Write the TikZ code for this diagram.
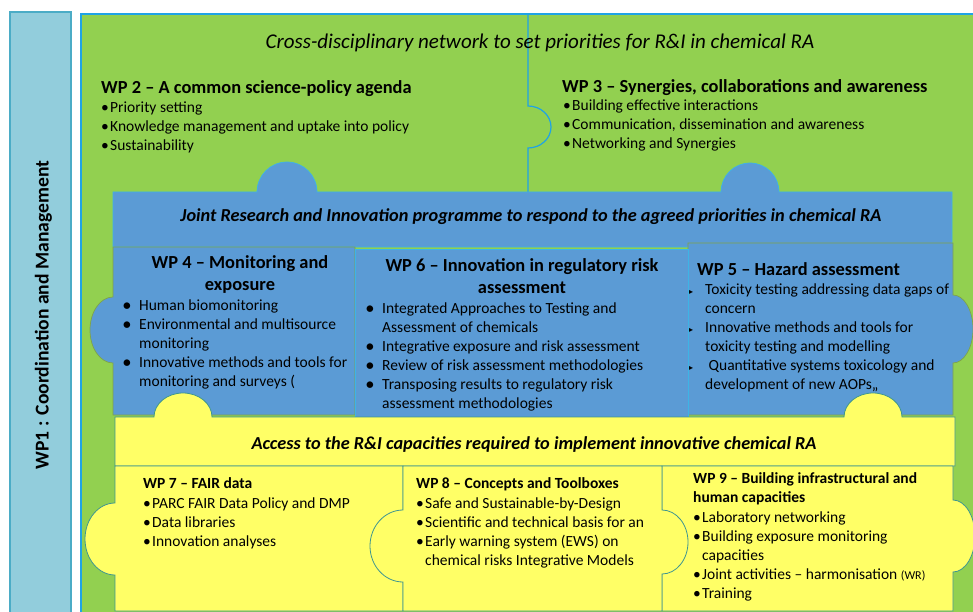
\documentclass[tikz,border=0pt]{standalone}
\usepackage{fontspec}
\setmainfont{Carlito}
\newfontfamily\symfont{DejaVu Sans}

\definecolor{pgreen}{HTML}{92D050}
\definecolor{pblue}{HTML}{5B9BD5}
\definecolor{pyellow}{HTML}{FFFF66}
\definecolor{barfill}{HTML}{92CDDC}
\definecolor{barline}{HTML}{4BACC6}
\definecolor{greenbd}{HTML}{1FA3E6}
\definecolor{bandbd}{HTML}{3DB4E6}
\definecolor{tabbd}{HTML}{7FA34A}
\definecolor{yellowbd}{HTML}{3F9690}

\newcommand{\dotA}{\makebox[9pt][l]{•}}
\newcommand{\dotB}{\makebox[16pt][l]{\bfseries •}}
\newcommand{\triB}{\makebox[16pt][l]{{\symfont\fontsize{8}{8}\selectfont ▸}}}

\tikzset{
  barbox/.style={fill=barfill, draw=barline, line width=1.5pt},
  greenpc/.style={fill=pgreen, draw=greenbd, line width=1.2pt},
  bandpc/.style={fill=pblue, draw=bandbd, line width=0.7pt},
  bluepc/.style={fill=pblue, draw=tabbd, line width=0.7pt},
  yellowpc/.style={fill=pyellow, draw=yellowbd, line width=0.8pt},
  head/.style={font=\fontsize{18.4}{21.5}\selectfont\bfseries, inner sep=0pt},
  subhead/.style={font=\fontsize{15.5}{18.5}\selectfont\bfseries, inner sep=0pt, anchor=base west, align=left},
  items/.style={font=\fontsize{15.5}{19}\selectfont, inner sep=0pt, anchor=base west, align=left},
  banner/.style={font=\fontsize{18.3}{21}\selectfont\bfseries\itshape, inner sep=0pt, anchor=base},
}

\begin{document}
\begin{tikzpicture}[x=1pt,y=-1pt]
\useasboundingbox (0,0) rectangle (973,612);

% WP1 bar
\draw[barbox] (10,12) rectangle (71,625);
\node[font=\fontsize{19.6}{19.6}\selectfont\bfseries, inner sep=0pt, anchor=base, rotate=90] (wp1) at (48.5,315) {WP1 : Coordination and Management};

% green network (multi-line nodes sit on their last baseline)
\draw[greenpc] (81,14) rectangle (990,630);
\draw[draw=greenbd, line width=1.2pt] (528,14) -- (528,106) arc[start angle=270, end angle=450, x radius=23, y radius=21] -- (528,192);

\node[font=\fontsize{21}{21}\selectfont\itshape, inner sep=0pt, anchor=base] (net) at (540,49) {Cross-disciplinary network to set priorities for R\&I in chemical RA};

\node[head, anchor=base west] (wp2t) at (101,94) {WP 2 – A common science-policy agenda};
\node[items] (wp2) at (101,151) {\dotA Priority setting\\ \dotA Knowledge management and uptake into policy\\ \dotA Sustainability};

\node[head, anchor=base west] (wp3t) at (562,93) {WP 3 – Synergies, collaborations and awareness};
\node[items] (wp3) at (563,149) {\dotA Building effective interactions\\ \dotA Communication, dissemination and awareness\\ \dotA Networking and Synergies};

% blue programme
\draw[bandpc] (113,192) -- (257,192) arc[start angle=180, end angle=360, radius=30] -- (721,192) arc[start angle=180, end angle=360, radius=29] -- (952,192) -- (952,247) -- (113,247) -- cycle;
\node[banner] (jrip) at (531,222) {Joint Research and Innovation programme to respond to the agreed priorities in chemical RA};

\draw[bluepc] (113,247) -- (355,247) -- (355,415) -- (113,415) -- (113,363) arc[start angle=90, end angle=270, x radius=23, y radius=33] -- cycle;
\draw[bluepc] (688,243) -- (953,243) -- (953,295) arc[start angle=270, end angle=450, x radius=20, y radius=34] -- (953,415) -- (688,415) -- cycle;
\draw[bandpc] (355,249) rectangle (688,418);

\node[head, align=center, anchor=base] (wp4t) at (240,290) {WP 4 – Monitoring and\\exposure};
\node[items] (wp4) at (123,386) {\dotB Human biomonitoring\\ \dotB Environmental and multisource\\ \hspace*{16pt}monitoring\\ \dotB Innovative methods and tools for\\ \hspace*{16pt}monitoring and surveys (};

\node[head, align=center, anchor=base] (wp6t) at (522,293) {WP 6 – Innovation in regulatory risk\\assessment};
\node[items] (wp6) at (366,408) {\dotB Integrated Approaches to Testing and\\ \hspace*{16pt}Assessment of chemicals\\ \dotB Integrative exposure and risk assessment\\ \dotB Review of risk assessment methodologies\\ \dotB Transposing results to regulatory risk\\ \hspace*{16pt}assessment methodologies};

\node[head, anchor=base west] (wp5t) at (697,275) {WP 5 – Hazard assessment};
\node[items] (wp5) at (689,389) {\triB Toxicity testing addressing data gaps of\\ \hspace*{16pt}concern\\ \triB Innovative methods and tools for\\ \hspace*{16pt}toxicity testing and modelling\\ \triB\ Quantitative systems toxicology and\\ \hspace*{16pt}development of new AOPs,,};

% yellow capacities
\draw[yellowpc] (115,417) -- (154,417) arc[start angle=180, end angle=360, x radius=29, y radius=24] -- (844,417) arc[start angle=180, end angle=360, x radius=29, y radius=24] -- (955,417) -- (955,466) -- (115,466) -- cycle;
\node[banner] (acc) at (534,449) {Access to the R\&I capacities required to implement innovative chemical RA};

\draw[yellowpc] (115,466) -- (403,466) -- (403,611) -- (115,611) -- (115,575) arc[start angle=90, end angle=270, x radius=30, y radius=36] -- cycle;
\draw[yellowpc] (662,466) -- (953,466) -- (953,500) arc[start angle=270, end angle=450, x radius=22, y radius=36] -- (953,611) -- (662,611) -- cycle;
\draw[yellowpc] (403,466) -- (662,466) -- (662,510) arc[start angle=270, end angle=450, x radius=26, y radius=32] -- (662,611) -- (403,611) -- (403,582) arc[start angle=90, end angle=270, x radius=33, y radius=36] -- cycle;

\node[subhead] (wp7t) at (143,488) {WP 7 – FAIR data};
\node[items] (wp7) at (143,546) {\dotA PARC FAIR Data Policy and DMP\\ \dotA Data libraries\\ \dotA Innovation analyses};

\node[subhead] (wp8t) at (416,488) {WP 8 – Concepts and Toolboxes};
\node[items] (wp8) at (416,565) {\dotA Safe and Sustainable-by-Design\\ \dotA Scientific and technical basis for an\\ \dotA Early warning system (EWS) on\\ \hspace*{9pt}chemical risks Integrative Models};

\node[subhead] (wp9t) at (693,502) {WP 9 – Building infrastructural and\\human capacities};
\node[items] (wp9) at (693,598) {\dotA Laboratory networking\\ \dotA Building exposure monitoring\\ \hspace*{9pt}capacities\\ \dotA Joint activities – harmonisation {\fontsize{12}{12}\selectfont(WR)}\\ \dotA Training};

\end{tikzpicture}
\end{document}
